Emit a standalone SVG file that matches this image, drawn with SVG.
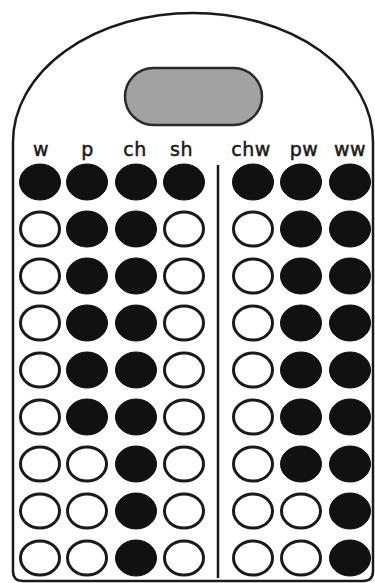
<svg xmlns="http://www.w3.org/2000/svg" width="375" height="583" viewBox="0 0 375 583">
<style>
.frame{fill:#fff;stroke:#1a1a1a;stroke-width:2.5}
.pill{fill:#a2a2a2;stroke:#2a2a2a;stroke-width:2.5}
.lbl{font-family:"DejaVu Sans","Liberation Sans",sans-serif;font-size:19px;fill:#1a1a1a;stroke:#1a1a1a;stroke-width:0.5;letter-spacing:0.5px;text-anchor:middle}
.f{fill:#111;stroke:#111;stroke-width:1}
.o{fill:#fff;stroke:#1a1a1a;stroke-width:3}
.div{stroke:#1a1a1a;stroke-width:2.5;fill:none}
</style>
<rect width="375" height="583" fill="#fff"/>
<g id="frame"><path class="frame" d="M 13 142 A 180 129 0 0 1 373 142 L 373 571 Q 373 581 363 581 L 23 581 Q 13 581 13 571 Z"/></g>
<g id="display"><rect class="pill" x="125" y="68" width="137" height="57" rx="28.5"/></g>
<g id="labels">
<text class="lbl" x="41" y="156">w</text>
<text class="lbl" x="87.5" y="156">p</text>
<text class="lbl" x="135" y="156">ch</text>
<text class="lbl" x="181.5" y="156">sh</text>
<text class="lbl" x="251" y="156">chw</text>
<text class="lbl" x="304" y="156">pw</text>
<text class="lbl" x="350" y="156">ww</text>
</g>
<g id="connectors"><line class="div" x1="218" y1="165" x2="218" y2="578"/></g>
<g id="row1"><ellipse class="f" cx="40" cy="182" rx="20.5" ry="18"/><ellipse class="f" cx="87" cy="182" rx="20.5" ry="18"/><ellipse class="f" cx="136" cy="182" rx="20.5" ry="18"/><ellipse class="f" cx="184" cy="182" rx="20.5" ry="18"/><ellipse class="f" cx="253" cy="182" rx="20.5" ry="18"/><ellipse class="f" cx="301" cy="182" rx="20.5" ry="18"/><ellipse class="f" cx="350" cy="182" rx="20.5" ry="18"/></g>
<g id="row2"><ellipse class="o" cx="40" cy="229" rx="19.5" ry="17"/><ellipse class="f" cx="87" cy="229" rx="20.5" ry="18"/><ellipse class="f" cx="136" cy="229" rx="20.5" ry="18"/><ellipse class="o" cx="184" cy="229" rx="19.5" ry="17"/><ellipse class="o" cx="253" cy="229" rx="19.5" ry="17"/><ellipse class="f" cx="301" cy="229" rx="20.5" ry="18"/><ellipse class="f" cx="350" cy="229" rx="20.5" ry="18"/></g>
<g id="row3"><ellipse class="o" cx="40" cy="276" rx="19.5" ry="17"/><ellipse class="f" cx="87" cy="276" rx="20.5" ry="18"/><ellipse class="f" cx="136" cy="276" rx="20.5" ry="18"/><ellipse class="o" cx="184" cy="276" rx="19.5" ry="17"/><ellipse class="o" cx="253" cy="276" rx="19.5" ry="17"/><ellipse class="f" cx="301" cy="276" rx="20.5" ry="18"/><ellipse class="f" cx="350" cy="276" rx="20.5" ry="18"/></g>
<g id="row4"><ellipse class="o" cx="40" cy="323" rx="19.5" ry="17"/><ellipse class="f" cx="87" cy="323" rx="20.5" ry="18"/><ellipse class="f" cx="136" cy="323" rx="20.5" ry="18"/><ellipse class="o" cx="184" cy="323" rx="19.5" ry="17"/><ellipse class="o" cx="253" cy="323" rx="19.5" ry="17"/><ellipse class="f" cx="301" cy="323" rx="20.5" ry="18"/><ellipse class="f" cx="350" cy="323" rx="20.5" ry="18"/></g>
<g id="row5"><ellipse class="o" cx="40" cy="370" rx="19.5" ry="17"/><ellipse class="f" cx="87" cy="370" rx="20.5" ry="18"/><ellipse class="f" cx="136" cy="370" rx="20.5" ry="18"/><ellipse class="o" cx="184" cy="370" rx="19.5" ry="17"/><ellipse class="o" cx="253" cy="370" rx="19.5" ry="17"/><ellipse class="f" cx="301" cy="370" rx="20.5" ry="18"/><ellipse class="f" cx="350" cy="370" rx="20.5" ry="18"/></g>
<g id="row6"><ellipse class="o" cx="40" cy="417" rx="19.5" ry="17"/><ellipse class="f" cx="87" cy="417" rx="20.5" ry="18"/><ellipse class="f" cx="136" cy="417" rx="20.5" ry="18"/><ellipse class="o" cx="184" cy="417" rx="19.5" ry="17"/><ellipse class="o" cx="253" cy="417" rx="19.5" ry="17"/><ellipse class="f" cx="301" cy="417" rx="20.5" ry="18"/><ellipse class="f" cx="350" cy="417" rx="20.5" ry="18"/></g>
<g id="row7"><ellipse class="o" cx="40" cy="464" rx="19.5" ry="17"/><ellipse class="o" cx="87" cy="464" rx="19.5" ry="17"/><ellipse class="f" cx="136" cy="464" rx="20.5" ry="18"/><ellipse class="o" cx="184" cy="464" rx="19.5" ry="17"/><ellipse class="o" cx="253" cy="464" rx="19.5" ry="17"/><ellipse class="f" cx="301" cy="464" rx="20.5" ry="18"/><ellipse class="f" cx="350" cy="464" rx="20.5" ry="18"/></g>
<g id="row8"><ellipse class="o" cx="40" cy="511" rx="19.5" ry="17"/><ellipse class="o" cx="87" cy="511" rx="19.5" ry="17"/><ellipse class="f" cx="136" cy="511" rx="20.5" ry="18"/><ellipse class="o" cx="184" cy="511" rx="19.5" ry="17"/><ellipse class="o" cx="253" cy="511" rx="19.5" ry="17"/><ellipse class="o" cx="301" cy="511" rx="19.5" ry="17"/><ellipse class="f" cx="350" cy="511" rx="20.5" ry="18"/></g>
<g id="row9"><ellipse class="o" cx="40" cy="558" rx="19.5" ry="17"/><ellipse class="o" cx="87" cy="558" rx="19.5" ry="17"/><ellipse class="f" cx="136" cy="558" rx="20.5" ry="18"/><ellipse class="o" cx="184" cy="558" rx="19.5" ry="17"/><ellipse class="o" cx="253" cy="558" rx="19.5" ry="17"/><ellipse class="o" cx="301" cy="558" rx="19.5" ry="17"/><ellipse class="f" cx="350" cy="558" rx="20.5" ry="18"/></g>
</svg>
